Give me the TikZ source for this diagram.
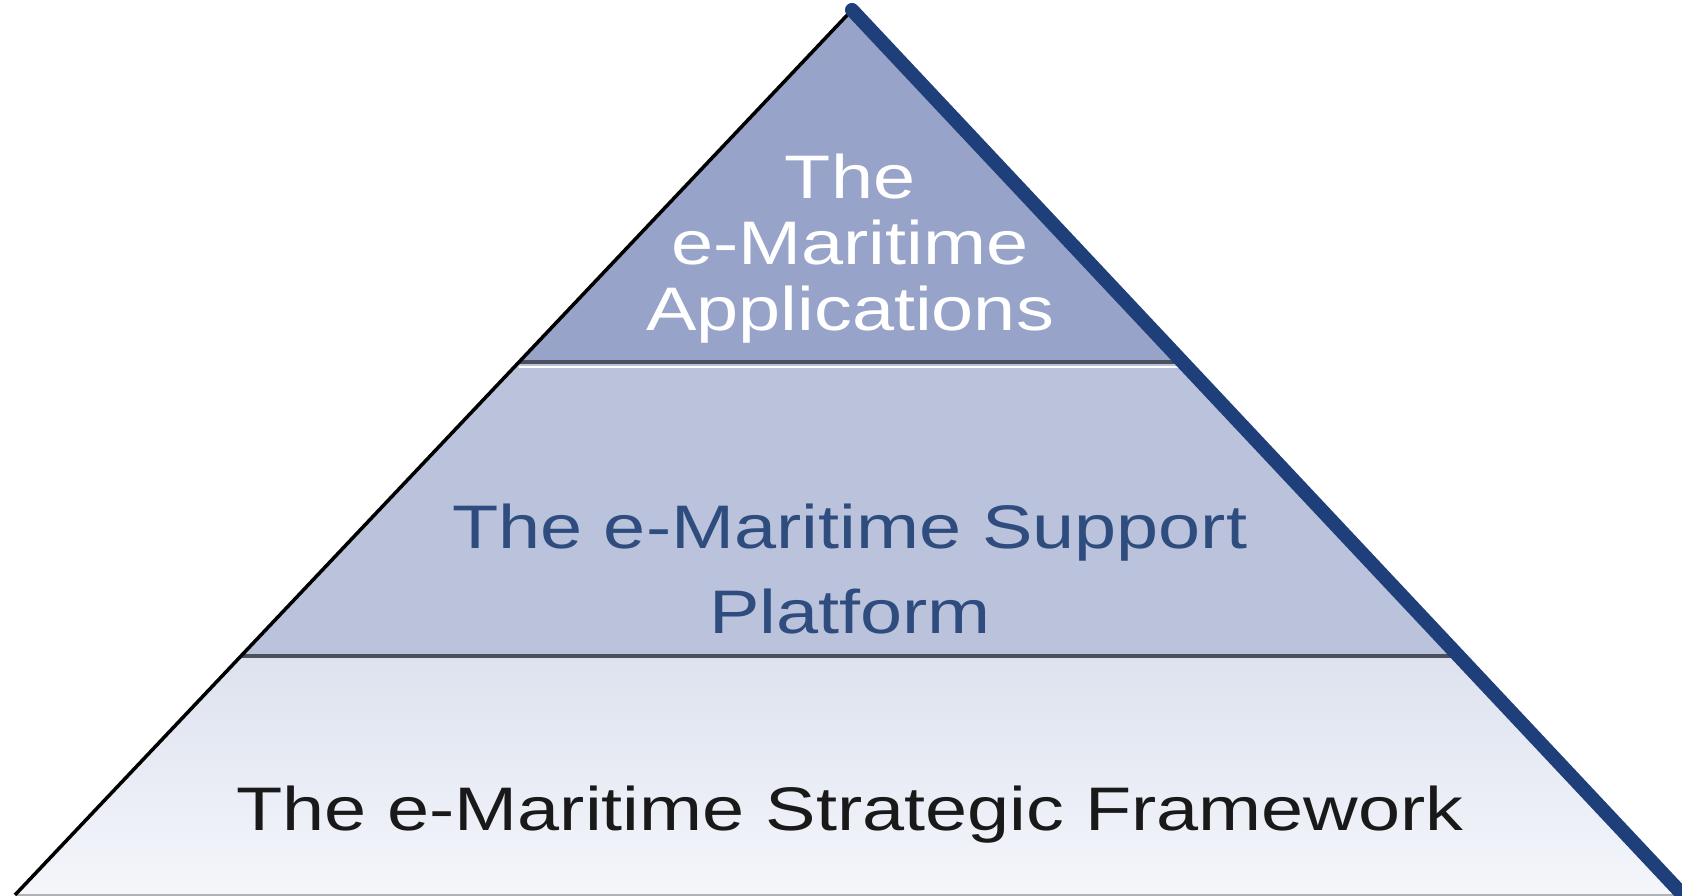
\documentclass[tikz,border=0pt]{standalone}
\usepackage{fontspec}
\setmainfont{Liberation Sans}
\usepackage{xcolor}
\usetikzlibrary{calc}

\definecolor{appfill}{HTML}{97A3C8}
\definecolor{platfill}{HTML}{BAC3DB}
\definecolor{frametop}{HTML}{DDE2EE}
\definecolor{framebot}{HTML}{F4F6FB}
\definecolor{edgeblue}{HTML}{1F3F7A}
\definecolor{platblue}{HTML}{2F4C7E}
\definecolor{seamgray}{HTML}{4A505E}

\begin{document}
\begin{tikzpicture}[
        layer/.style={font=\fontsize{17.5}{#1}\selectfont, xscale=1.23, align=center},
        seam/.style={seamgray, line width=1.2pt},
    ]
        \useasboundingbox (0,0) rectangle (16.82,8.96);

        % Define corners of the pyramid
        \coordinate (apex) at (8.52,8.86);
        \coordinate (bl) at (0.15,0.01);
        \coordinate (br) at (16.83,0.01);
        \coordinate (al) at ($(apex)!0.398!(bl)$);
        \coordinate (ar) at ($(apex)!0.398!(br)$);
        \coordinate (pl) at ($(apex)!0.730!(bl)$);
        \coordinate (pr) at ($(apex)!0.730!(br)$);

        % Fill the three layers
        \fill[appfill] (apex) -- (al) -- (ar) -- cycle;
        \fill[platfill] (al) -- (pl) -- (pr) -- (ar) -- cycle;
        \shade[top color=frametop, bottom color=framebot] (pl) -- (bl) -- (br) -- (pr) -- cycle;

        % Seams between the layers
        \draw[seam] (al) -- (ar);
        \draw[white, line width=0.6pt] ($(al)+(0,-0.05)$) -- ($(ar)+(0,-0.05)$);
        \draw[seam] (pl) -- (pr);
        \draw[gray!60, line width=0.8pt] (bl) -- (br);

        % Outer edges
        \draw[black, line width=1pt] (apex) -- (bl);
        \draw[edgeblue, line width=4pt, line cap=round] (apex) -- (br);

        % Define nodes
        \node (apps) [layer=18.8pt, text=white] at (8.50,6.47) {The\\e-Maritime\\Applications};
        \node (platform) [layer=24.2pt, text=platblue] at (8.50,3.27) {The e-Maritime Support\\Platform};
        \node (framework) [layer=21pt, text=black!90] at (8.50,0.81) {The e-Maritime Strategic Framework};
    \end{tikzpicture}
\end{document}
